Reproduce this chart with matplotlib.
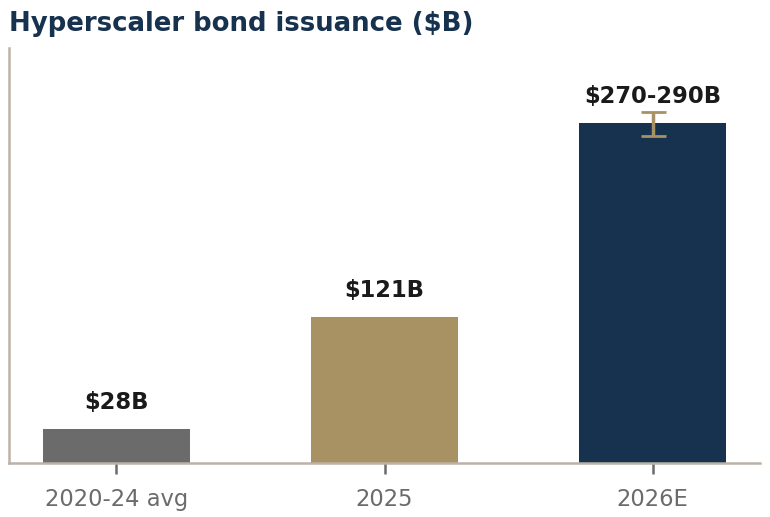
import numpy as np
from matplotlib import pyplot as plt

# data
categories = ["2020-24 avg", "2025", "2026E"]
values = [28, 121, 281]
labels = ["$28B", "$121B", "$270-290B"]
err_low = [270]
err_high = [290]
colors = ["#6b6b6b", "#a89163", "#16324f"]

fig = plt.figure(figsize=(7.7, 5.17), dpi=100)
ax = fig.add_axes([9 / 770, 54 / 517, 751 / 770, 415 / 517])

x = np.arange(len(categories))
ax.bar(x, values, width=0.55, color=colors, zorder=2)

# error bar on the estimate, centred on the 280 midpoint
mid = 280
ax.errorbar(x[2], mid, yerr=[[mid - err_low[0]], [err_high[0] - mid]],
            color="#a89163", capsize=9, capthick=2, elinewidth=2.5, zorder=3)

for xi, v, t in zip(x, values, labels):
    ax.text(xi, v + 16.5, t, ha="center", va="baseline", fontsize=16.3,
            fontweight="bold", color="#1a1a1a")

ax.set_xlim(-0.4, 2.4)
ax.set_ylim(0, 343)
ax.set_xticks(x)
ax.set_xticklabels(categories, fontsize=16.3, color="#6b6b6b")
ax.set_yticks([])
ax.tick_params(axis="x", length=8, width=1.8, color="#6b6b6b", pad=10)

for s in ["top", "right"]:
    ax.spines[s].set_visible(False)
for s in ["left", "bottom"]:
    ax.spines[s].set_color("#bcb2a8")
    ax.spines[s].set_linewidth(1.8)

fig.text(9 / 770, 1 - 31 / 517, "Hyperscaler bond issuance ($B)", fontsize=18.7,
         fontweight="bold", color="#16324f", ha="left", va="baseline")

fig.savefig("out.png", dpi=100)
